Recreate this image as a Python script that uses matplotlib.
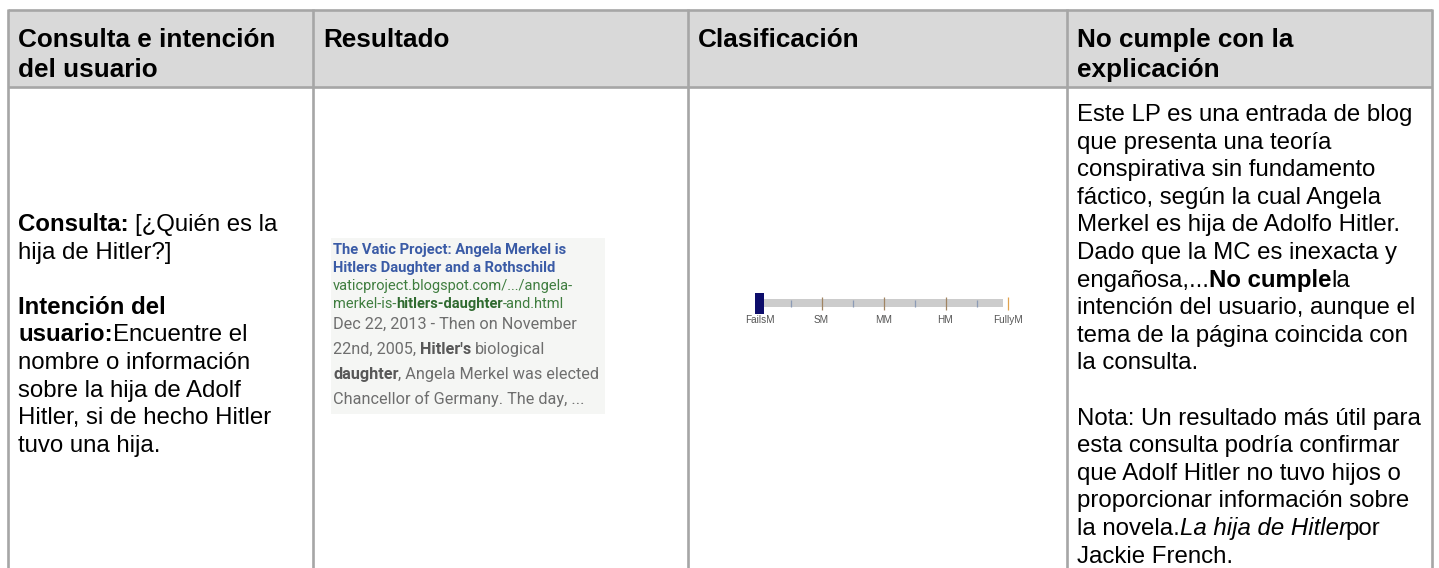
import matplotlib
matplotlib.use("Agg")
import matplotlib.pyplot as plt
from matplotlib.font_manager import FontProperties
from matplotlib.patches import Rectangle

# ---------------- data ----------------
headers = [["Consulta e intención", "del usuario"],
           ["Resultado"],
           ["Clasificación"],
           ["No cumple con la", "explicación"]]

left_lines = [
    [("Consulta:", "b"), (" [¿Quién es la", "n")],
    [("hija de Hitler?]", "n")],
    [],
    [("Intención del", "b")],
    [("usuario:", "b"), ("Encuentre el", "n")],
    [("nombre o información", "n")],
    [("sobre la hija de Adolf", "n")],
    [("Hitler, si de hecho Hitler", "n")],
    [("tuvo una hija.", "n")],
]

right_lines = [
    [("Este LP es una entrada de blog", "n")],
    [("que presenta una teoría", "n")],
    [("conspirativa sin fundamento", "n")],
    [("fáctico, según la cual Angela", "n")],
    [("Merkel es hija de Adolfo Hitler.", "n")],
    [("Dado que la MC es inexacta y", "n")],
    [("engañosa,...", "n"), ("No cumple", "b"), ("la", "n")],
    [("intención del usuario, aunque el", "n")],
    [("tema de la página coincida con", "n")],
    [("la consulta.", "n")],
    [],
    [("Nota: Un resultado más útil para", "n")],
    [("esta consulta podría confirmar", "n")],
    [("que Adolf Hitler no tuvo hijos o", "n")],
    [("proporcionar información sobre", "n")],
    [("la novela.", "n"), ("La hija de Hitler", "i"), ("por", "n")],
    [("Jackie French.", "n")],
]

snippet_lines = [
    [("The Vatic Project: Angela Merkel is", "title")],
    [("Hitlers Daughter and a Rothschild", "title")],
    [("vaticproject.blogspot.com/.../angela-", "url")],
    [("merkel-is-", "url"), ("hitlers-daughter", "urlb"), ("-and.html", "url")],
    [("Dec 22, 2013 - Then on November", "grey")],
    [("22nd, 2005, ", "grey"), ("Hitler's", "greyb"), (" biological", "grey")],
    [("daughter", "greyb"), (", Angela Merkel was elected", "grey")],
    [("Chancellor of Germany. The day, ...", "grey")],
]

scale_labels = ["FailsM", "SM", "MM", "HM", "FullyM"]
scale_positions = [0, 1, 2, 3, 4]
minor_positions = [0.5, 1.5, 2.5, 3.5]
rating_value = 0

# ---------------- layout / style ----------------
W, H = 1439, 568
col_x = [8, 313, 688, 1067, 1432]
top_y, head_y, bottom_y = 10, 87, 600
border = "#a6a6a6"
head_bg = "#d9d9d9"
SANS = "Liberation Sans"

fig = plt.figure(figsize=(W / 100, H / 100), dpi=100)
ax = fig.add_axes([0, 0, 1, 1])
ax.set_xlim(0, W)
ax.set_ylim(H, 0)
ax.axis("off")
renderer = fig.canvas.get_renderer()

BODY = 17.3
styles = {
    "n": dict(family=SANS, size=BODY, weight="normal", style="normal", color="#000000"),
    "b": dict(family=SANS, size=BODY, weight="bold", style="normal", color="#000000"),
    "i": dict(family=SANS, size=BODY, weight="normal", style="italic", color="#000000"),
    "h": dict(family=SANS, size=18.8, weight="bold", style="normal", color="#000000"),
    "title": dict(family="Roboto", size=10.6, weight="bold", style="normal", color="#3a5ba6"),
    "url": dict(family="Roboto", size=10.5, weight="normal", style="normal", color="#3f7d3f"),
    "urlb": dict(family="Roboto", size=10.5, weight="bold", style="normal", color="#2f6a2f"),
    "grey": dict(family="Roboto", size=11.7, weight="normal", style="normal", color="#6e6e6e"),
    "greyb": dict(family="Roboto", size=11.7, weight="bold", style="normal", color="#585858"),
}


def fprop(st):
    return FontProperties(family=st["family"], size=st["size"],
                          weight=st["weight"], style=st["style"])


def adv(s, fp):
    if not s:
        return 0.0
    w1 = renderer.get_text_width_height_descent("." + s + ".", fp, ismath=False)[0]
    w0 = renderer.get_text_width_height_descent("..", fp, ismath=False)[0]
    return w1 - w0


def draw_runs(x, y, runs):
    for text, key in runs:
        st = styles[key]
        fp = fprop(st)
        core = text.strip(" ")
        lead = len(text) - len(text.lstrip(" "))
        trail = len(text) - len(text.rstrip(" "))
        x += adv(" " * lead, fp)
        ax.text(x, y, core, fontproperties=fp, color=st["color"],
                ha="left", va="baseline")
        x += adv(core, fp) + adv(" " * trail, fp)


# header background and grid
ax.add_patch(Rectangle((col_x[0], top_y), col_x[-1] - col_x[0], head_y - top_y,
                       facecolor=head_bg, edgecolor="none", zorder=0))
lw = 1.9
ax.plot([col_x[0], col_x[-1]], [top_y, top_y], color=border, lw=lw, solid_capstyle="butt")
ax.plot([col_x[0], col_x[-1]], [head_y, head_y], color=border, lw=lw, solid_capstyle="butt")
for cx in col_x:
    ax.plot([cx, cx], [top_y - 1, bottom_y], color=border, lw=lw, solid_capstyle="butt")

# header text
for ci, lines in enumerate(headers):
    for li, t in enumerate(lines):
        draw_runs(col_x[ci] + 10, 47 + li * 30, [(t, "h")])

# body: left column
line_h = 27.6
left_base = 231
for i, runs in enumerate(left_lines):
    draw_runs(col_x[0] + 10, left_base + i * line_h, runs)

# body: right column
right_base = 121
for i, runs in enumerate(right_lines):
    draw_runs(col_x[3] + 10, right_base + i * line_h, runs)

# snippet (search result image)
snip_x0, snip_y0, snip_w, snip_h = 331, 238, 274, 176
ax.add_patch(Rectangle((snip_x0, snip_y0), snip_w, snip_h, facecolor="#f5f6f4",
                       edgecolor="none", zorder=0))
snip_base = [254, 272, 290, 308, 329, 354, 379, 404]
for yb, runs in zip(snip_base, snippet_lines):
    draw_runs(snip_x0 + 2, yb, runs)

# rating scale (inset axes)
px_per_unit = 62.0
x0_px = 759.5
left_px, right_px = 738, 1030
top_px, bot_px = 288, 318
sx = fig.add_axes([left_px / W, 1 - bot_px / H, (right_px - left_px) / W, (bot_px - top_px) / H])
sx.set_xlim((left_px - x0_px) / px_per_unit, (right_px - x0_px) / px_per_unit)
sx.set_ylim(-15, 15)
sx.axis("off")
track_end = scale_positions[-1] - 0.08
sx.barh(0, track_end - scale_positions[0], left=scale_positions[0], height=8,
        color="#cccccc", zorder=1)
sx.vlines(minor_positions, -3.5, 3.5, color="#8c9bb5", lw=0.9, zorder=2)
sx.vlines(scale_positions[1:-1], -6.5, 6.5, color="#a08462", lw=0.9, zorder=2)
sx.vlines(scale_positions[-1], -6.5, 6.5, color="#e0a24e", lw=0.9, zorder=2)
sx.barh(0, 0.145, left=rating_value - 0.07, height=21, color="#0d0d6b", zorder=3)
for p, lab in zip(scale_positions, scale_labels):
    sx.text(p, -17, lab, ha="center", va="center", fontsize=7.2,
            family=SANS, color="#555555", clip_on=False)

fig.savefig("out.png", dpi=100, facecolor="white")
